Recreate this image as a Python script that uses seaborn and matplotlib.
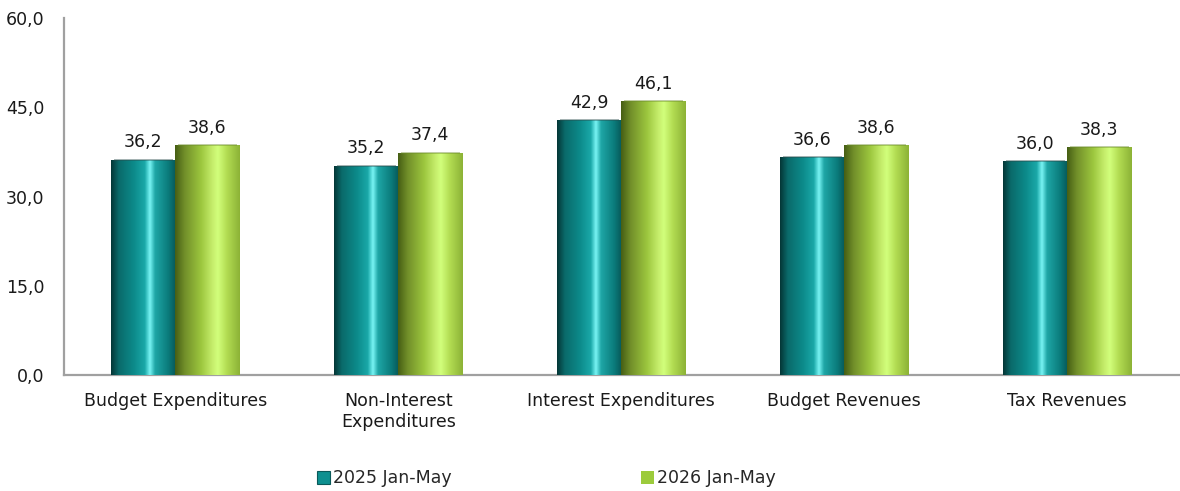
"""
Budget indicators, Jan-May 2025 vs 2026 (cylinder-style bars)
"""

import numpy as np
import pandas as pd
import matplotlib
matplotlib.use("Agg")
import matplotlib.pyplot as plt
from matplotlib.colors import LinearSegmentedColormap
from matplotlib.patches import Patch
import seaborn as sns

# Data
categories = [
    "Budget Expenditures",
    "Non-Interest\nExpenditures",
    "Interest Expenditures",
    "Budget Revenues",
    "Tax Revenues",
]
series_names = ["2025 Jan-May", "2026 Jan-May"]
values_2025 = [36.2, 35.2, 42.9, 36.6, 36.0]
values_2026 = [38.6, 37.4, 46.1, 38.6, 38.3]
y_ticks = [0, 15, 30, 45, 60]

TEAL = "#0e9090"
GREEN = "#9ccb3c"
FS = 12.5

# Horizontal shading to fake the cylinder look
teal_cmap = LinearSegmentedColormap.from_list(
    "teal_cyl",
    [(0.0, "#043636"), (0.12, "#0a6a6a"), (0.35, "#0c8a8a"), (0.52, "#1aa8a8"),
     (0.6, "#78f4f4"), (0.68, "#1ea6a6"), (0.88, "#0b7c7c"), (1.0, "#075858")],
)
green_cmap = LinearSegmentedColormap.from_list(
    "green_cyl",
    [(0.0, "#465e14"), (0.15, "#728f2a"), (0.4, "#9cc63e"), (0.58, "#c6ee6c"),
     (0.66, "#d2ff7c"), (0.8, "#b2dc52"), (1.0, "#8cb236")],
)


def main():
    sns.set_theme(style="white")
    plt.rcParams["font.family"] = ["DejaVu Sans"]

    df = pd.DataFrame({
        "category": categories * 2,
        "series": [series_names[0]] * len(categories) + [series_names[1]] * len(categories),
        "value": values_2025 + values_2026,
    })

    fig = plt.figure(figsize=(11.8, 4.91), dpi=100)
    ax = fig.add_axes([0.054, 0.236, 0.945, 0.727])

    sns.barplot(
        data=df, x="category", y="value", hue="series",
        palette=[TEAL, GREEN], width=0.574, gap=0,
        edgecolor="none", legend=False, ax=ax,
    )

    grad = np.linspace(0, 1, 256).reshape(1, -1)
    for container, cmap in zip(ax.containers, [teal_cmap, green_cmap]):
        for bar in container:
            x0, w, h = bar.get_x(), bar.get_width(), bar.get_height()
            im = ax.imshow(grad, cmap=cmap, aspect="auto",
                           extent=[x0, x0 + w, 0, h], zorder=3)
            im.set_clip_path(bar)
            # thin darker rim on top
            ax.plot([x0 + w * 0.04, x0 + w * 0.96], [h, h],
                    color="#2a4a4a" if cmap is teal_cmap else "#6a8a2a",
                    lw=1.2, alpha=0.5, zorder=4, solid_capstyle="butt")
        ax.bar_label(container, labels=[f"{v:.1f}".replace(".", ",") for v in container.datavalues],
                     padding=6, fontsize=FS, color="#1a1a1a")

    ax.set_xlim(-0.5, len(categories) - 0.5)
    ax.set_ylim(0, 60)
    ax.set_yticks(y_ticks)
    ax.set_yticklabels([f"{t:.1f}".replace(".", ",") for t in y_ticks], fontsize=FS, color="#1a1a1a")
    ax.tick_params(axis="x", labelsize=FS, colors="#1a1a1a", length=0, pad=12)
    ax.tick_params(axis="y", length=0, pad=14)
    ax.set_xlabel("")
    ax.set_ylabel("")

    for side in ["top", "right"]:
        ax.spines[side].set_visible(False)
    for side in ["left", "bottom"]:
        ax.spines[side].set_color("#a0a0a0")
        ax.spines[side].set_linewidth(1.6)

    handles = [Patch(facecolor=TEAL, edgecolor="#0a5a5a", lw=0.8),
               Patch(facecolor=GREEN, edgecolor="none")]
    fig.legend(handles, series_names, loc="center", bbox_to_anchor=(0.463, 0.026),
               ncol=2, frameon=False, fontsize=FS, handlelength=0.75,
               handleheight=0.75, handletextpad=0.2, columnspacing=10.9)

    fig.savefig("out.png", dpi=100)
    plt.close(fig)


if __name__ == "__main__":
    main()
